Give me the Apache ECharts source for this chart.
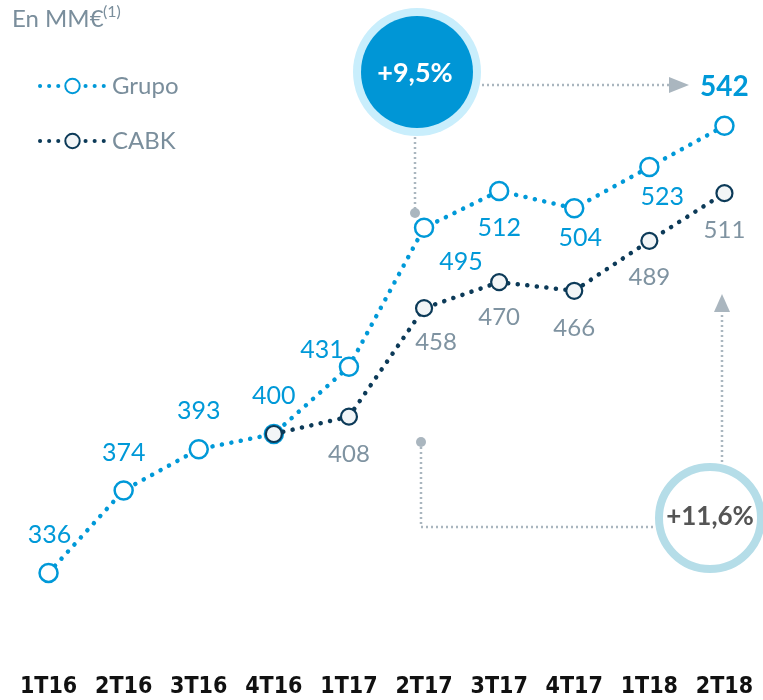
<!DOCTYPE html>
<html>
<head>
<meta charset="utf-8">
<script src="https://cdn.jsdelivr.net/npm/echarts@6/dist/echarts.min.js"></script>
<style>html,body{margin:0;padding:0;background:#fff}#c{width:763px;height:700px}</style>
</head>
<body>
<div id="c"></div>
<script>
const categories = ['1T16','2T16','3T16','4T16','1T17','2T17','3T17','4T17','1T18','2T18'];
const grupo = [336, 374, 393, 400, 431, 495, 512, 504, 523, 542];
const cabk = [null, null, null, 400, 408, 458, 470, 466, 489, 511];
const seriesNames = ['Grupo', 'CABK'];
const unitLabel = 'En MM€';
const growthGrupo = '+9,5%';
const growthCabk = '+11,6%';

const BLUE = '#0099d8', NAVY = '#0c3a58', GREY = '#7f93a1', ANNO = '#aab6bf';
const FONT = 'Lato, "Open Sans", sans-serif';
const NARROW = '"Liberation Sans Narrow", "DejaVu Sans Condensed", sans-serif';

const grupoOff = [[1,-38],[0,-37],[0,-38],[0,-38],[-27,-17],[37,34],[0,37],[6,30],[13,30],[0,-39]];
const cabkOff = [null,null,null,null,[0,38],[12,34],[0,35],[0,37],[0,36],[0,37]];

const grupoData = grupo.map((v,i)=>({
  value: v,
  label: {
    show: true, position: 'inside', offset: grupoOff[i],
    color: BLUE, fontFamily: FONT,
    fontSize: i === 9 ? 28 : 25, fontWeight: i === 9 ? 'bold' : 'normal'
  }
}));
const cabkData = cabk.map((v,i)=>({
  value: v,
  label: cabkOff[i] ? {show: true, position: 'inside', offset: cabkOff[i], color: GREY, fontFamily: FONT, fontSize: 24} : {show:false}
}));

const chart = echarts.init(document.getElementById('c'));
const dotted = (c) => ({color: c, width: 4.5, type: [0.1, 9.5], cap: 'round'});

chart.setOption({
  animation: false,
  grid: {left: 11, width: 751, top: 0, height: 651},
  legend: {
    orient: 'vertical', left: 33, top: 69, itemWidth: 65, itemHeight: 18, itemGap: 31,
    lineStyle: {width: 4, type: [0.1, 9], cap: 'round'},
    textStyle: {color: '#7a8e9c', fontSize: 24, fontFamily: FONT, padding: [0,0,0,2]},
    data: seriesNames
  },
  xAxis: {
    type: 'category', data: categories,
    axisLine: {show: false}, axisTick: {show: false}, splitLine: {show: false},
    axisLabel: {color: '#111', fontSize: 23, fontWeight: 'bold', fontFamily: NARROW, margin: 25}
  },
  yAxis: {type: 'value', min: 300, max: 600, show: false, splitLine: {show: false}},
  series: [
    {
      name: seriesNames[1], type: 'line', data: cabkData, z: 3,
      symbol: 'circle', symbolSize: 16,
      itemStyle: {color: '#f2f5f7', borderColor: NAVY, borderWidth: 2.2},
      lineStyle: dotted(NAVY)
    },
    {
      name: seriesNames[0], type: 'line', data: grupoData, z: 2,
      symbol: 'circle', symbolSize: 18,
      itemStyle: {color: '#ffffff', borderColor: BLUE, borderWidth: 2.5},
      lineStyle: dotted(BLUE)
    }
  ],
  graphic: [
    {type: 'text', left: 12, top: 7, style: {text: unitLabel, fill: '#7a8e9c', font: '24px ' + FONT}},
    {type: 'text', left: 103, top: 4, style: {text: '(1)', fill: '#7a8e9c', font: '16px ' + FONT}},
    // +9,5% annotation
    {type: 'polyline', shape: {points: [[415,137],[415,212]]}, style: {stroke: ANNO, lineWidth: 2.5, lineDash: [2,3], fill: null}},
    {type: 'circle', shape: {cx: 415, cy: 213, r: 5}, style: {fill: ANNO}},
    {type: 'polyline', shape: {points: [[482,85],[670,85]]}, style: {stroke: ANNO, lineWidth: 2.5, lineDash: [2,3], fill: null}},
    {type: 'polygon', shape: {points: [[669,77],[689,85],[669,93]]}, style: {fill: ANNO}},
    {type: 'circle', shape: {cx: 417, cy: 72, r: 64}, style: {fill: '#c9eefc'}},
    {type: 'circle', shape: {cx: 417, cy: 72, r: 56}, style: {fill: '#0096d6'}},
    {type: 'text', x: 415, y: 73, style: {text: growthGrupo, fill: '#fff', font: 'bold 27px ' + FONT, align: 'center', verticalAlign: 'middle'}},
    // +11,6% annotation
    {type: 'polyline', shape: {points: [[421,442],[421,527],[656,527]]}, style: {stroke: ANNO, lineWidth: 2.5, lineDash: [2,3], fill: null}},
    {type: 'circle', shape: {cx: 421, cy: 442, r: 5}, style: {fill: ANNO}},
    {type: 'polyline', shape: {points: [[722,462],[722,310]]}, style: {stroke: ANNO, lineWidth: 2.5, lineDash: [2,3], fill: null}},
    {type: 'polygon', shape: {points: [[714,312],[722,294],[730,312]]}, style: {fill: ANNO}},
    {type: 'circle', shape: {cx: 710, cy: 518, r: 51}, style: {fill: '#fff', stroke: '#b5dde8', lineWidth: 8}},
    {type: 'text', x: 710, y: 517, style: {text: growthCabk, fill: '#555', font: 'bold 26px ' + FONT, align: 'center', verticalAlign: 'middle'}}
  ]
});
</script>
</body>
</html>
